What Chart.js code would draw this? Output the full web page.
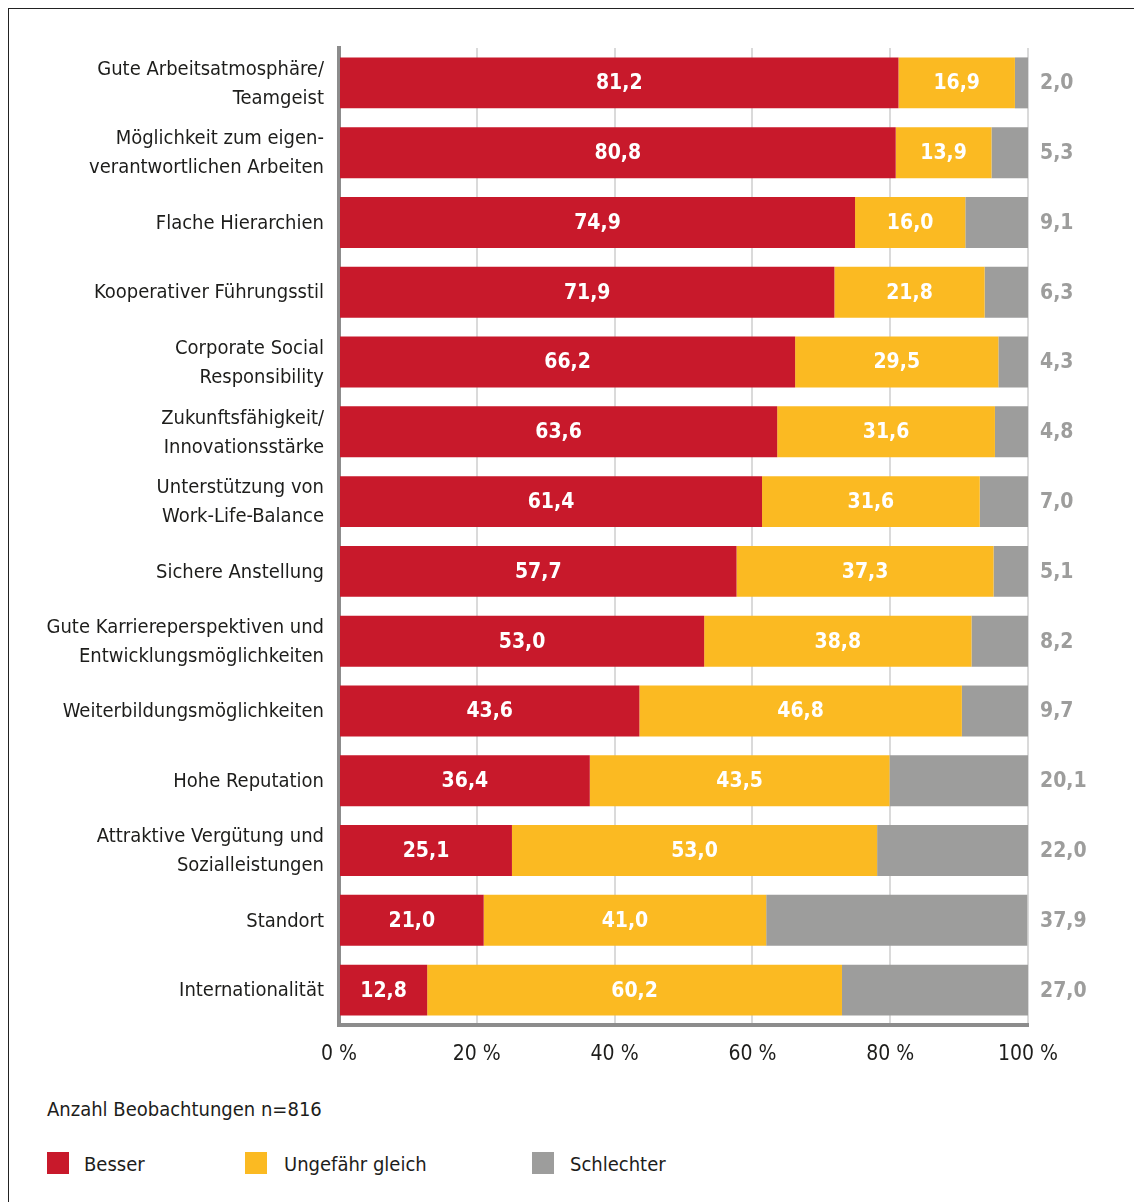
<!DOCTYPE html>
<html>
<head>
<meta charset="utf-8">
<script src="https://cdn.jsdelivr.net/npm/chart.js@4"></script>
<style>
  html, body { margin:0; padding:0; background:#fff; }
  body { width:1134px; height:1202px; position:relative; overflow:hidden;
         font-family:"Liberation Sans Narrow","DejaVu Sans Condensed","Open Sans",sans-serif; color:#1d1d1b; }
  #frame { position:absolute; left:8px; top:8px; width:1200px; height:1300px;
           border-left:1.5px solid #222; border-top:1.5px solid #222; }
  #c { position:absolute; left:0; top:0; }
  .note { position:absolute; left:47px; top:1095px; font-size:20px; line-height:28px; }
  .lg { position:absolute; top:1150px; font-size:20px; line-height:28px; }
  .sw { position:absolute; top:1152px; width:22px; height:22px; }
</style>
</head>
<body>
<div id="frame"></div>
<canvas id="c" width="1134" height="1080"></canvas>
<div class="note">Anzahl Beobachtungen n=816</div>
<div class="sw" style="left:47px;background:#c8192b"></div><div class="lg" style="left:84px">Besser</div>
<div class="sw" style="left:245px;background:#fbba22"></div><div class="lg" style="left:284px">Ungefähr gleich</div>
<div class="sw" style="left:532px;background:#9d9d9c"></div><div class="lg" style="left:570px">Schlechter</div>
<script>
const FONT = '"Liberation Sans Narrow","DejaVu Sans Condensed","Open Sans",sans-serif';

const categories = [
  ['Gute Arbeitsatmosphäre/', 'Teamgeist'],
  ['Möglichkeit zum eigen-', 'verantwortlichen Arbeiten'],
  'Flache Hierarchien',
  'Kooperativer Führungsstil',
  ['Corporate Social', 'Responsibility'],
  ['Zukunftsfähigkeit/', 'Innovationsstärke'],
  ['Unterstützung von', 'Work-Life-Balance'],
  'Sichere Anstellung',
  ['Gute Karriereperspektiven und', 'Entwicklungsmöglichkeiten'],
  'Weiterbildungsmöglichkeiten',
  'Hohe Reputation',
  ['Attraktive Vergütung und', 'Sozialleistungen'],
  'Standort',
  'Internationalität'
];

const besser     = [81.2, 80.8, 74.9, 71.9, 66.2, 63.6, 61.4, 57.7, 53.0, 43.6, 36.4, 25.1, 21.0, 12.8];
const ungefaehr  = [16.9, 13.9, 16.0, 21.8, 29.5, 31.6, 31.6, 37.3, 38.8, 46.8, 43.5, 53.0, 41.0, 60.2];
const schlechter = [ 2.0,  5.3,  9.1,  6.3,  4.3,  4.8,  7.0,  5.1,  8.2,  9.7, 20.1, 22.0, 37.9, 27.0];

const seriesNames = ['Besser', 'Ungefähr gleich', 'Schlechter'];
const xTicks = [0, 20, 40, 60, 80, 100];

const colors = ['#c8192b', '#fbba22', '#9d9d9c'];

const fmt = v => v.toFixed(1).replace('.', ',');

const valueLabels = {
  id: 'valueLabels',
  afterDatasetsDraw(chart) {
    const ctx = chart.ctx;
    ctx.save();
    ctx.font = 'bold 21px ' + FONT;
    ctx.textBaseline = 'middle';
    chart.data.datasets.forEach((ds, i) => {
      const meta = chart.getDatasetMeta(i);
      meta.data.forEach((bar, j) => {
        const t = fmt(ds.data[j]);
        if (i < 2) {
          ctx.fillStyle = '#ffffff';
          ctx.textAlign = 'center';
          ctx.fillText(t, (bar.x + bar.base) / 2, bar.y + 1);
        } else {
          ctx.fillStyle = '#9d9d9c';
          ctx.textAlign = 'left';
          ctx.fillText(t, chart.chartArea.right + 12, bar.y + 1);
        }
      });
    });
    ctx.restore();
  }
};

new Chart(document.getElementById('c'), {
  type: 'bar',
  data: {
    labels: categories,
    datasets: [besser, ungefaehr, schlechter].map((d, i) => ({
      label: seriesNames[i],
      data: d,
      backgroundColor: colors[i],
      borderWidth: 0,
      barPercentage: 0.73,
      categoryPercentage: 1.0
    }))
  },
  options: {
    indexAxis: 'y',
    responsive: false,
    animation: false,
    events: [],
    layout: { padding: { top: 48, right: 106, left: 0, bottom: 0 } },
    plugins: { legend: { display: false }, tooltip: { enabled: false } },
    scales: {
      x: {
        stacked: true,
        min: 0, max: 100,
        afterBuildTicks: s => { s.ticks = xTicks.map(v => ({ value: v })); },
        afterFit: s => { s.height = 55; },
        grid: { color: '#dadada', lineWidth: 2, drawTicks: false },
        border: { color: '#8c8c8c', width: 4 },
        ticks: {
          padding: 17,
          color: '#1d1d1b',
          font: { size: 21, family: FONT },
          callback: v => v + ' %'
        }
      },
      y: {
        stacked: true,
        afterFit: s => { s.width = 339; },
        grid: { display: false, drawTicks: false },
        border: { color: '#8c8c8c', width: 4 },
        ticks: {
          padding: 15,
          labelOffset: 1,
          color: '#1d1d1b',
          font: { size: 20, family: FONT, lineHeight: 1.45 }
        }
      }
    }
  },
  plugins: [valueLabels]
});
</script>
</body>
</html>
